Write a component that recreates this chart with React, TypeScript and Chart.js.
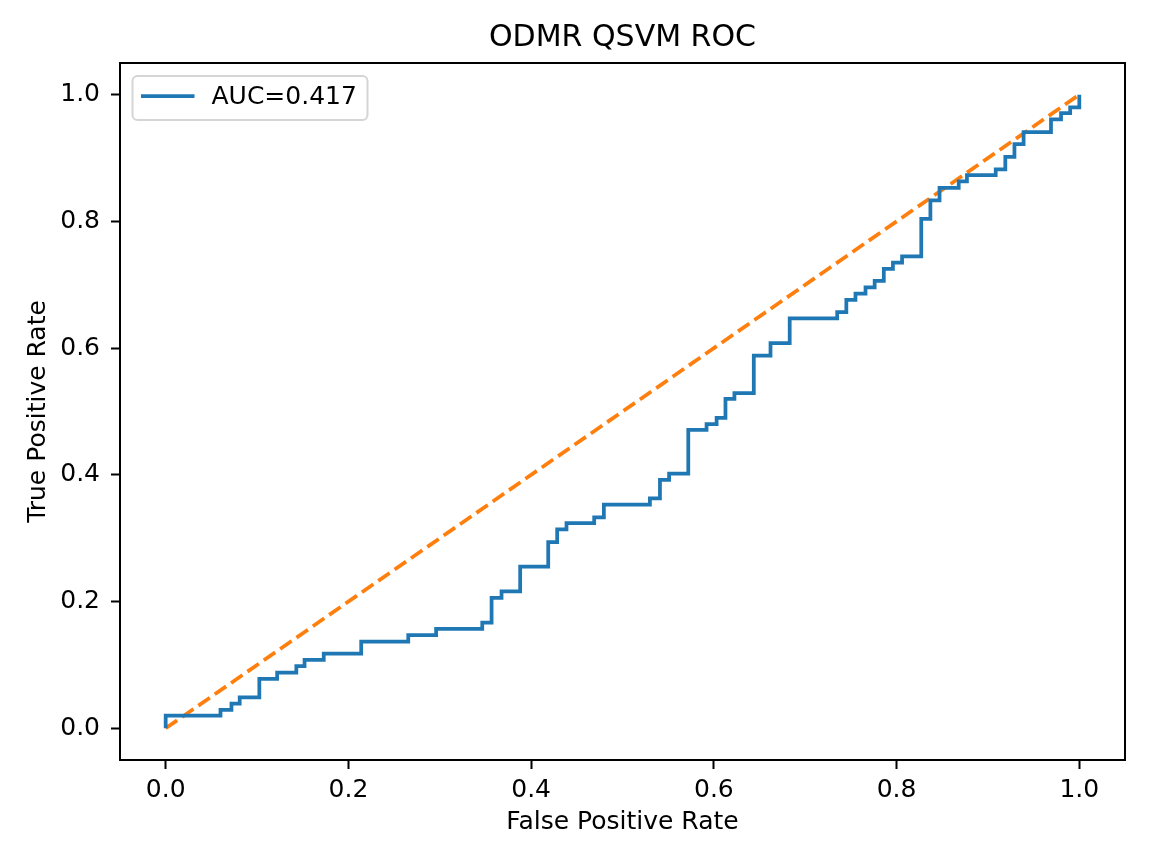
import React, { useEffect, useRef } from "react";
import { Chart, registerables } from "chart.js";

Chart.register(...registerables);

// ROC vertices (step happens at each fpr, tpr is the new level)
const fpr = [
  0, 0, 0.06, 0.072, 0.081, 0.1025, 0.122, 0.143, 0.152, 0.173, 0.214, 0.2655,
  0.296, 0.3465, 0.3567, 0.3676, 0.388, 0.4187, 0.4285, 0.4387, 0.469, 0.4796,
  0.53, 0.541, 0.551, 0.572, 0.592, 0.603, 0.6127, 0.6225, 0.6437, 0.662, 0.683,
  0.735, 0.745, 0.755, 0.766, 0.776, 0.786, 0.796, 0.806, 0.827, 0.837, 0.847,
  0.868, 0.877, 0.9085, 0.919, 0.929, 0.939, 0.969, 0.98, 0.99, 1.0,
];
const tpr = [
  0, 0.02, 0.029, 0.039, 0.049, 0.078, 0.088, 0.098, 0.108, 0.118, 0.137, 0.147,
  0.157, 0.167, 0.206, 0.216, 0.255, 0.294, 0.314, 0.324, 0.333, 0.353, 0.363,
  0.392, 0.402, 0.471, 0.48, 0.49, 0.52, 0.529, 0.588, 0.608, 0.647, 0.657,
  0.676, 0.686, 0.696, 0.706, 0.725, 0.735, 0.745, 0.804, 0.833, 0.853, 0.863,
  0.873, 0.882, 0.902, 0.922, 0.941, 0.961, 0.971, 0.98, 1.0,
];
const chanceX = [0, 1];
const chanceY = [0, 1];
const xTicks = [0, 0.2, 0.4, 0.6, 0.8, 1.0];
const yTicks = [0, 0.2, 0.4, 0.6, 0.8, 1.0];
const aucLabel = "AUC=0.417";

const FONT = "'DejaVu Sans', sans-serif";

const framePlugin = {
  id: "frame",
  afterDatasetsDraw(chart: any) {
    const { ctx, chartArea: a } = chart;
    ctx.save();
    ctx.strokeStyle = "#000";
    ctx.lineWidth = 2;
    ctx.strokeRect(a.left, a.top, a.right - a.left, a.bottom - a.top);
    ctx.restore();
  },
};

const legendPlugin = {
  id: "innerLegend",
  afterDraw(chart: any) {
    const { ctx, chartArea: a } = chart;
    const ds = chart.data.datasets[0];
    const x = a.left + 12.5;
    const y = a.top + 13;
    ctx.save();
    ctx.beginPath();
    ctx.roundRect(x, y, 235, 44, 5);
    ctx.fillStyle = "rgba(255,255,255,0.8)";
    ctx.fill();
    ctx.strokeStyle = "#d5d5d5";
    ctx.lineWidth = 2;
    ctx.stroke();
    ctx.beginPath();
    ctx.moveTo(x + 8.5, y + 20);
    ctx.lineTo(x + 62, y + 20);
    ctx.strokeStyle = ds.borderColor;
    ctx.lineWidth = 3.75;
    ctx.stroke();
    ctx.fillStyle = "#000";
    ctx.font = `25px ${FONT}`;
    ctx.textBaseline = "middle";
    ctx.fillText(ds.label, x + 79, y + 21);
    ctx.restore();
  },
};

export default function App() {
  const canvasRef = useRef<HTMLCanvasElement | null>(null);

  useEffect(() => {
    document.body.style.margin = "0";
    if (!canvasRef.current) return;

    const axisCommon = {
      type: "linear" as const,
      min: -0.05,
      max: 1.05,
      grid: {
        drawOnChartArea: false,
        drawTicks: true,
        tickLength: 9,
        tickWidth: 2,
        tickColor: "#000",
      },
      border: { display: true, color: "#000", width: 2 },
    };

    const chart = new Chart(canvasRef.current, {
      type: "scatter",
      data: {
        datasets: [
          {
            label: aucLabel,
            data: fpr.map((x, i) => ({ x, y: tpr[i] })),
            showLine: true,
            stepped: "before",
            borderColor: "#1f77b4",
            borderWidth: 3.75,
            pointRadius: 0,
          },
          {
            label: "chance",
            data: chanceX.map((x, i) => ({ x, y: chanceY[i] })),
            showLine: true,
            borderColor: "#ff7f0e",
            borderWidth: 3.75,
            borderDash: [13.9, 6],
            pointRadius: 0,
          },
        ],
      },
      options: {
        animation: false,
        responsive: true,
        maintainAspectRatio: false,
        layout: { padding: { left: 0, right: 27, top: 0, bottom: 0 } },
        plugins: {
          legend: { display: false },
          tooltip: { enabled: false },
          title: {
            display: true,
            fullSize: false,
            text: "ODMR QSVM ROC",
            color: "#000",
            font: { family: FONT, size: 30, weight: "normal" },
            padding: { top: 20, bottom: 7 },
          },
        },
        scales: {
          x: {
            ...axisCommon,
            afterBuildTicks: (s: any) => {
              s.ticks = xTicks.map((value) => ({ value }));
            },
            afterFit: (s: any) => {
              s.height = 104;
            },
            ticks: {
              color: "#000",
              padding: 6,
              maxRotation: 0,
              font: { family: FONT, size: 25 },
              callback: (v: any) => Number(v).toFixed(1),
            },
            title: {
              display: true,
              text: "False Positive Rate",
              color: "#000",
              font: { family: FONT, size: 25 },
              padding: { top: 27, bottom: 27 },
            },
          },
          y: {
            ...axisCommon,
            afterBuildTicks: (s: any) => {
              s.ticks = yTicks.map((value) => ({ value }));
            },
            afterFit: (s: any) => {
              s.width = 120;
            },
            ticks: {
              color: "#000",
              padding: 11,
              font: { family: FONT, size: 25 },
              callback: (v: any) => Number(v).toFixed(1),
            },
            title: {
              display: true,
              text: "True Positive Rate",
              color: "#000",
              font: { family: FONT, size: 25 },
              padding: { top: 23, bottom: 23 },
            },
          },
        },
      },
      plugins: [framePlugin, legendPlugin],
    });

    return () => chart.destroy();
  }, []);

  return (
    <div style={{ width: "1152px", height: "864px", background: "#fff" }}>
      <canvas ref={canvasRef}></canvas>
    </div>
  );
}
